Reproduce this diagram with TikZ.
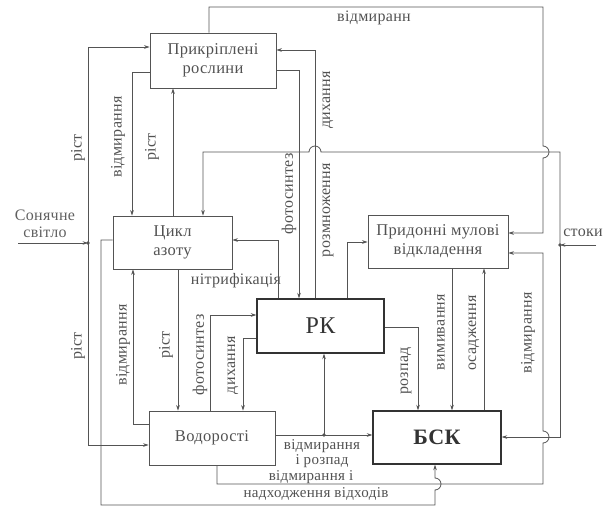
\documentclass[tikz,border=0pt]{standalone}
\usepackage{fontspec}
\setmainfont{Liberation Serif}[LetterSpace=2]
\usetikzlibrary{arrows.meta}
\definecolor{ln}{gray}{0.33}
\definecolor{tx}{gray}{0.32}
\definecolor{dk}{gray}{0.2}
\begin{document}
\begin{tikzpicture}[x=1pt,y=1pt,
  box/.style={draw=ln, line width=0.9pt, text=tx, align=center, inner sep=0pt,
    font=\fontsize{16.5}{19}\selectfont},
  bigbox/.style={draw=dk, line width=1.4pt, text=dk, align=center, inner sep=0pt},
  lab/.style={text=tx, inner sep=0pt, align=center, font=\fontsize{16}{17}\selectfont},
  slab/.style={text=tx, inner sep=0pt, align=center, font=\fontsize{15}{15}\selectfont},
  vlab/.style={lab, rotate=90},
  wire/.style={draw=ln, line width=0.8pt},
  arr/.style={wire, -{Stealth[length=5.5pt,width=3.6pt]}},
  dot/.style={fill=ln}]
\useasboundingbox (0,0) rectangle (610,-508);

% boxes
\node[box, minimum width=126pt, minimum height=55pt] (P) at (213,-60.5) {Прикріплені\\рослини};
\node[box, minimum width=119pt, minimum height=53pt] (C) at (172.5,-242.5) {Цикл\\азоту};
\node[box, minimum width=140pt, minimum height=53pt] (M) at (438,-241.5) {Придонні мулові\\відкладення};
\node[bigbox, minimum width=127pt, minimum height=54pt, font=\fontsize{24}{24}\selectfont] (RK) at (320.5,-326) {РК};
\node[box, minimum width=126pt, minimum height=54pt] (V) at (212,-438) {Водорості};
\node[bigbox, minimum width=128pt, minimum height=53pt, font=\bfseries\fontsize{22}{22}\selectfont] (B) at (437,-437.5) {БСК};

% sunlight
\coordinate (sun) at (18,-243);
\coordinate (d1) at (88,-243);
\draw[arr] (sun) -- (d1);
\draw[arr] (d1) -- (88,-47) -- (P.west |- 0,-47);
\draw[arr] (d1) -- (88,-445) -- (V.west |- 0,-445);
\fill[dot] (d1) circle (1.8pt);
\node[lab, text=gray!75!black] at (45,-224) {Сонячне\\світло};
\node[vlab] at (78,-148) {ріст};
\node[vlab] at (78,-346) {ріст};

% top loop: attached plants dying -> sediments
\draw[arr] (P.north -| 209,0) -- (209,-7) -- (543,-7) -- (543,-146)
  arc[start angle=90,end angle=-90,radius=6] -- (543,-233) -- (M.east |- 0,-233);
\node[lab] at (374,-18) {відмиранн};

% runoff
\coordinate (st) at (596,-245);
\coordinate (d2) at (560,-245);
\draw[arr] (st) -- (d2);
\draw[arr] (d2) -- (560,-152) -- (321,-152) arc[start angle=0,end angle=180,radius=6]
  -- (203,-152) -- (C.north -| 203,0);
\draw[arr] (d2) -- (560,-437) -- (B.east |- 0,-437);
\fill[dot] (d2) circle (1.8pt);
\node[lab] at (583,-233) {стоки};

% plants <-> nitrogen cycle
\draw[arr] (P.west |- 0,-72) -- (132,-72) -- (C.north -| 132,0);
\node[vlab] at (118,-137) {відмирання};
\draw[arr] (C.north -| 173,0) -- (P.south -| 173,0);
\node[vlab] at (152,-147) {ріст};

% plants <-> RK
\draw[arr] (P.east |- 0,-70) -- (299,-70) -- (RK.north -| 299,0);
\node[vlab] at (289,-194) {фотосинтез};
\draw[arr] (RK.north -| 315,0) -- (315,-50) -- (P.east |- 0,-50);
\node[vlab] at (328,-100) {дихання};
\node[vlab] at (328,-210) {розмноження};

% RK -> nitrogen cycle, RK -> sediments
\draw[arr] (RK.north -| 278,0) -- (278,-240) -- (C.east |- 0,-240);
\node[lab] at (236,-281) {нітрифікація};
\draw[arr] (RK.north -| 347,0) -- (347,-242) -- (M.west |- 0,-242);

% RK -> BSK, sediments <-> BSK
\draw[arr] (RK.east |- 0,-327) -- (418,-327) -- (B.north -| 418,0);
\node[vlab] at (406,-371) {розпад};
\draw[arr] (M.south -| 452,0) -- (B.north -| 452,0);
\node[vlab] at (441,-332) {вимивання};
\draw[arr] (B.north -| 484,0) -- (M.south -| 484,0);
\node[vlab] at (474,-333) {осадження};

% algae dying -> sediments
\draw[arr] (V.south -| 217,0) -- (217,-484) -- (543,-484) -- (543,-443)
  arc[start angle=-90,end angle=90,radius=6] -- (543,-253) -- (M.east |- 0,-253);
\node[vlab] at (528,-333) {відмирання};
\node[slab] at (311,-477) {відмирання і};
\node[slab] at (316,-494) {надходження відходів};

% outer loop nitrogen cycle -> BSK
\draw[arr] (C.west |- 0,-240) -- (101,-240) -- (101,-505) -- (435,-505) -- (435,-490)
  arc[start angle=-90,end angle=90,radius=6] -- (B.south -| 435,0);

% algae <-> nitrogen cycle
\draw[arr] (V.west |- 0,-424) -- (133,-424) -- (C.south -| 133,0);
\node[vlab] at (123,-345) {відмирання};
\draw[arr] (C.south -| 178,0) -- (V.north -| 178,0);
\node[vlab] at (166,-345) {ріст};

% algae <-> RK
\draw[arr] (V.north -| 210,0) -- (210,-315) -- (RK.west |- 0,-315);
\node[vlab] at (200,-355) {фотосинтез};
\draw[arr] (RK.west |- 0,-338) -- (243,-338) -- (V.north -| 243,0);
\node[vlab] at (233,-365) {дихання};

% algae -> BSK and RK
\coordinate (d3) at (324,-435);
\draw[wire] (V.east |- 0,-435) -- (d3);
\draw[arr] (d3) -- (B.west |- 0,-435);
\draw[arr] (d3) -- (RK.south -| 324,0);
\fill[dot] (d3) circle (1.8pt);
\node[slab] at (322,-446) {відмирання};
\node[slab] at (322,-461) {і розпад};
\end{tikzpicture}
\end{document}
